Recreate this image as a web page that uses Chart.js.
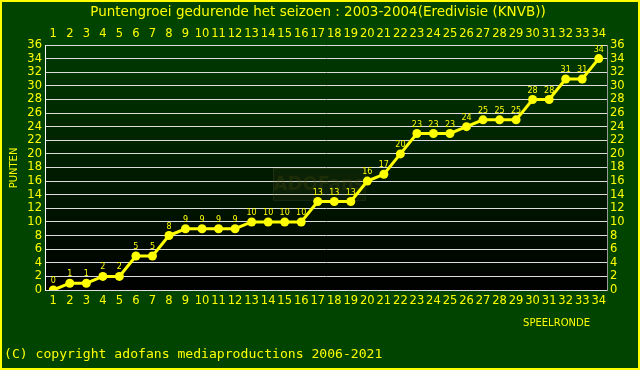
<!DOCTYPE html>
<html lang="nl">
<head>
  <meta charset="UTF-8">
  <title>Puntengroei 2003-2004</title>
  <style>
    html, body { margin: 0; padding: 0; background: #004400; }
    .wrap { width: 640px; height: 370px; position: relative; }
  </style>
  <script src="https://cdn.jsdelivr.net/npm/chart.js"></script>
</head>
<body>
  <div class="wrap">
    <canvas id="puntenChart" width="640" height="370"></canvas>
  </div>

  <script>
    // Speelrondes en cumulatieve punten
    const rondes = Array.from({ length: 34 }, (_, i) => String(i + 1));
    const punten = [0, 1, 1, 2, 2, 5, 5, 8, 9, 9, 9, 9, 10, 10, 10, 10, 13, 13, 13,
                    16, 17, 20, 23, 23, 23, 24, 25, 25, 25, 28, 28, 31, 31, 34];
    const yMin = 0, yMax = 36, yStep = 2;

    const titleText = 'Puntengroei gedurende het seizoen : 2003-2004(Eredivisie (KNVB))';
    const yLabel = 'PUNTEN';
    const xLabel = 'SPEELRONDE';
    const footer = '(C) copyright adofans mediaproductions 2006-2021';

    const geel = '#ffff00';
    const tickFont = { family: 'DejaVu Sans', size: 11.5 };

    const decorPlugin = {
      id: 'decor',
      beforeDraw(chart) {
        const { ctx, chartArea: a, width, height } = chart;
        ctx.save();
        ctx.fillStyle = '#004400';
        ctx.fillRect(0, 0, width, height);
        ctx.strokeStyle = geel;
        ctx.lineWidth = 2;
        ctx.strokeRect(1, 1, width - 2, height - 2);
        const g = ctx.createLinearGradient(0, a.top, 0, a.bottom);
        g.addColorStop(0, '#003a00');
        g.addColorStop(1, '#000000');
        ctx.fillStyle = g;
        ctx.fillRect(a.left, a.top, a.right - a.left, a.bottom - a.top);
        ctx.restore();
      },
      beforeDatasetsDraw(chart) {
        // vage watermerk
        const { ctx } = chart;
        ctx.save();
        ctx.fillStyle = 'rgba(90,90,40,0.12)';
        ctx.fillRect(273, 168, 92, 32);
        ctx.strokeStyle = 'rgba(90,90,40,0.25)';
        ctx.lineWidth = 1;
        ctx.strokeRect(273.5, 168.5, 92, 32);
        ctx.fillStyle = 'rgba(80,80,20,0.25)';
        ctx.font = 'bold 20px "DejaVu Sans Condensed", "DejaVu Sans"';
        ctx.textAlign = 'center';
        ctx.textBaseline = 'middle';
        ctx.fillText('ADOFans', 319, 185);
        ctx.restore();
      },
      afterDatasetsDraw(chart) {
        const { ctx } = chart;
        const meta = chart.getDatasetMeta(0);
        ctx.save();
        ctx.fillStyle = geel;
        ctx.font = '8px "DejaVu Sans"';
        ctx.textAlign = 'center';
        ctx.textBaseline = 'bottom';
        meta.data.forEach((pt, i) => {
          ctx.fillText(String(punten[i]), pt.x, pt.y - 5);
        });
        ctx.restore();
      },
      afterDraw(chart) {
        const { ctx } = chart;
        ctx.save();
        ctx.fillStyle = geel;
        ctx.textBaseline = 'middle';
        ctx.textAlign = 'center';
        ctx.font = '13.5px "DejaVu Sans"';
        ctx.fillText(titleText, 318, 12);

        ctx.font = '10px "DejaVu Sans"';
        ctx.textAlign = 'right';
        ctx.fillText(xLabel, 590, 323);

        ctx.save();
        ctx.translate(14, 168);
        ctx.rotate(-Math.PI / 2);
        ctx.textAlign = 'center';
        ctx.fillText(yLabel, 0, 0);
        ctx.restore();

        ctx.textAlign = 'left';
        ctx.font = '13.1px "DejaVu Sans Mono"';
        ctx.fillText(footer, 4, 355);
        ctx.restore();
      }
    };

    const yAxis = (pos, width, borderColor) => ({
      position: pos,
      min: yMin,
      max: yMax,
      afterFit(s) { s.width = width; },
      ticks: { stepSize: yStep, color: geel, font: tickFont, padding: 3, autoSkip: false },
      grid: { display: pos === 'left', color: '#dddddd', lineWidth: 1, drawTicks: false },
      border: { display: true, color: borderColor, width: 1 }
    });

    new Chart(document.getElementById('puntenChart'), {
      type: 'line',
      data: {
        labels: rondes,
        datasets: [{
          data: punten,
          borderColor: geel,
          backgroundColor: geel,
          borderWidth: 3,
          pointRadius: 4.5,
          pointBorderWidth: 0,
          pointBackgroundColor: geel,
          tension: 0,
          xAxisID: 'x',
          yAxisID: 'y'
        }]
      },
      options: {
        responsive: false,
        animation: false,
        devicePixelRatio: 1,
        layout: { padding: 0 },
        plugins: { legend: { display: false }, title: { display: false }, tooltip: { enabled: false } },
        scales: {
          x: {
            type: 'category',
            position: 'bottom',
            offset: true,
            afterFit(s) { s.height = 80; },
            ticks: { color: geel, font: tickFont, padding: 4, maxRotation: 0, autoSkip: false },
            grid: { display: false, drawTicks: false },
            border: { display: true, color: '#dddddd' }
          },
          x2: {
            type: 'category',
            position: 'top',
            labels: rondes,
            offset: true,
            afterFit(s) { s.height = 45; },
            ticks: { color: geel, font: tickFont, padding: 4, maxRotation: 0, autoSkip: false },
            grid: { display: false, drawTicks: false },
            border: { display: false }
          },
          y: yAxis('left', 45, '#ffffff'),
          y2: yAxis('right', 33, '#999999')
        }
      },
      plugins: [decorPlugin]
    });
  </script>
</body>
</html>
